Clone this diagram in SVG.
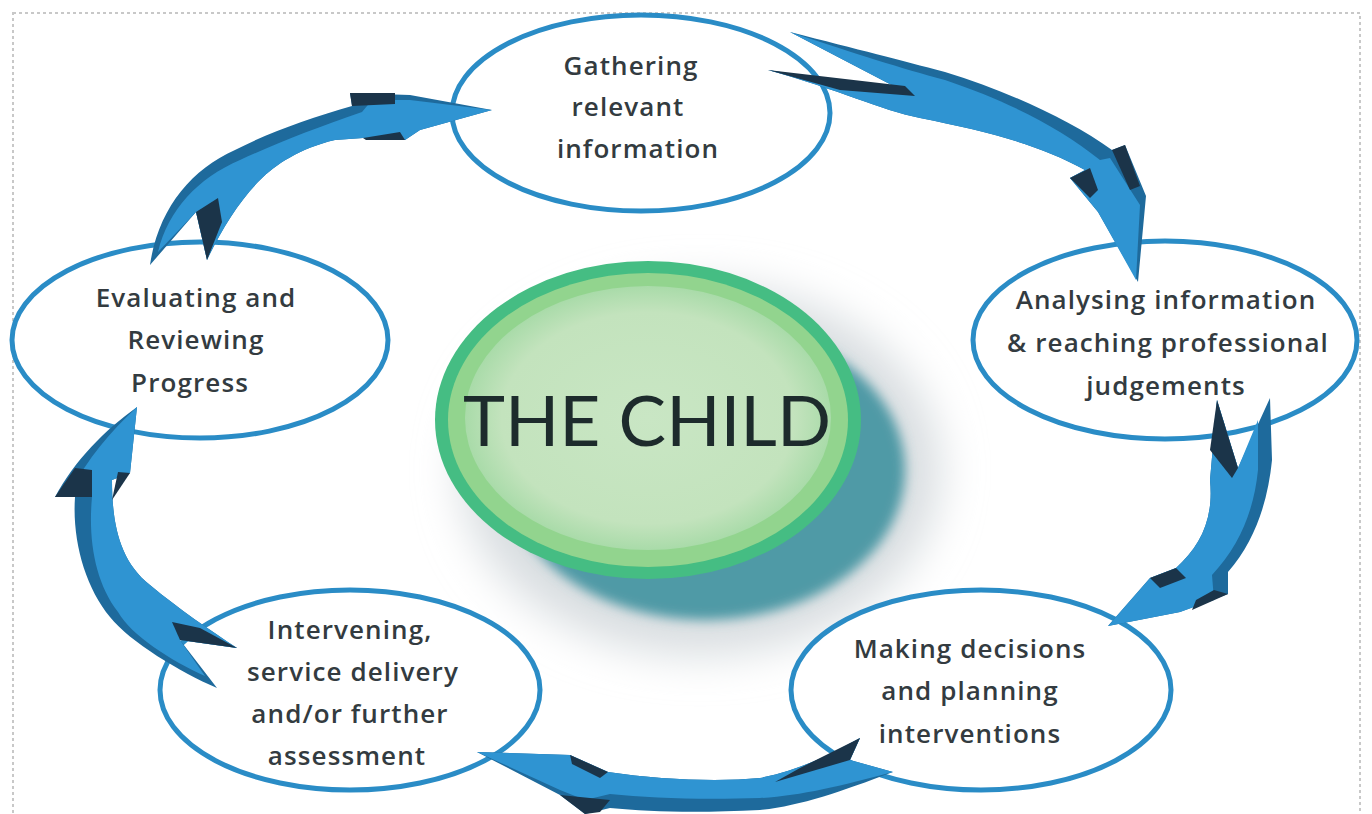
<svg xmlns="http://www.w3.org/2000/svg" width="1372" height="814" viewBox="0 0 1372 814">
<defs>
<style>
.node{fill:#ffffff;stroke:#2a8cc6;stroke-width:5}
.lbl{font-family:"Open Sans","Liberation Sans",sans-serif;font-weight:600;font-size:26px;letter-spacing:1.1px;fill:#333b40;text-anchor:middle}
.light{fill:#2f94d2}
.mid{fill:#1e6a9c}
.dark{fill:#1b3449}
</style>
<filter id="blur" x="-30%" y="-30%" width="160%" height="160%"><feGaussianBlur stdDeviation="22"/></filter>
<filter id="blur2" x="-30%" y="-30%" width="160%" height="160%"><feGaussianBlur stdDeviation="6"/></filter>
<radialGradient id="inner" cx="50%" cy="50%" r="50%">
<stop offset="0" stop-color="#c9e6c4"/>
<stop offset="0.8" stop-color="#c3e3bd"/>
<stop offset="1" stop-color="#a9dba9"/>
</radialGradient>
</defs>
<rect x="13" y="13" width="1347" height="820" fill="#ffffff" stroke="#c8c8c8" stroke-width="2" stroke-dasharray="3 3"/>

<g id="center">
<ellipse cx="700" cy="470" rx="240" ry="185" fill="#d8dde0" filter="url(#blur)"/>
<ellipse cx="705" cy="470" rx="200" ry="150" fill="#4f9aa6" filter="url(#blur2)"/>
<ellipse cx="648" cy="420" rx="213" ry="159" fill="#45bd83"/>
<ellipse cx="648" cy="420" rx="200" ry="147" fill="#92d48e"/>
<ellipse cx="648" cy="418" rx="183" ry="132" fill="url(#inner)"/>
<text x="647" y="446" font-family="Lato,'Liberation Sans',Arial,sans-serif" font-size="70" fill="#1d2b2c" text-anchor="middle" textLength="368" lengthAdjust="spacingAndGlyphs">THE CHILD</text>
</g>

<g id="node-gathering">
<ellipse class="node" cx="641" cy="113" rx="189" ry="98"/>
<text class="lbl" x="631" y="75">Gathering</text>
<text class="lbl" x="628" y="116">relevant</text>
<text class="lbl" x="638" y="158">information</text>
</g>
<g id="node-analysing">
<ellipse class="node" cx="1165" cy="340" rx="192" ry="99"/>
<text class="lbl" x="1166" y="309">Analysing information</text>
<text class="lbl" x="1168" y="352">&amp; reaching professional</text>
<text class="lbl" x="1166" y="395">judgements</text>
</g>
<g id="node-making">
<ellipse class="node" cx="981" cy="690" rx="190" ry="100"/>
<text class="lbl" x="970" y="658">Making decisions</text>
<text class="lbl" x="970" y="700">and planning</text>
<text class="lbl" x="970" y="743">interventions</text>
</g>
<g id="node-intervening">
<ellipse class="node" cx="350" cy="690" rx="190" ry="100"/>
<text class="lbl" x="350" y="639">Intervening,</text>
<text class="lbl" x="353" y="681">service delivery</text>
<text class="lbl" x="350" y="723">and/or further</text>
<text class="lbl" x="347" y="765">assessment</text>
</g>
<g id="node-evaluating">
<ellipse class="node" cx="200" cy="340" rx="188" ry="98"/>
<text class="lbl" x="196" y="307">Evaluating and</text>
<text class="lbl" x="196" y="349">Reviewing</text>
<text class="lbl" x="190" y="392">Progress</text>
</g>

<g id="connectors">
<g id="arrow1">
<path class="mid" d="M790 32 C860 50 900 60 945 72 C1010 92 1070 120 1112 150 L1125 145 L1146 196 L1138 282 L1098 212 L1070 178 L1085 170 C1040 145 990 132 920 118 C880 110 840 90 768 70 L905 92 Z"/>
<path class="light" d="M790 32 C860 55 900 68 945 80 C1010 102 1060 128 1100 160 L1110 158 L1140 205 L1136 280 L1098 212 L1070 178 L1085 170 C1040 145 990 132 920 118 C880 110 840 90 768 70 L905 92 Z"/>
<path class="dark" d="M768 70 L905 86 L915 96 L840 90 Z"/>
<path class="dark" d="M1070 178 L1090 168 L1098 190 L1090 198 Z"/>
<path class="dark" d="M1112 150 L1125 145 L1140 186 L1130 190 Z"/>
</g>
<g id="arrow2">
<path class="mid" d="M1217 400 L1238 468 L1270 398 L1272 460 C1268 500 1256 540 1228 572 L1228 594 L1180 612 L1108 626 L1150 578 L1176 568 C1200 546 1214 520 1210 480 Z"/>
<path class="light" d="M1217 400 L1238 468 L1258 420 L1258 470 C1254 510 1240 545 1212 575 L1214 600 L1180 612 L1108 626 L1150 578 L1176 568 C1200 546 1214 520 1210 480 Z"/>
<path class="dark" d="M1217 400 L1238 468 L1232 478 L1210 450 Z"/>
<path class="dark" d="M1150 578 L1176 568 L1186 578 L1160 588 Z"/>
<path class="dark" d="M1214 590 L1228 594 L1192 610 L1196 600 Z"/>
</g>
<g id="arrow3">
<path class="mid" d="M477 752 L570 755 L608 772 C660 780 720 782 760 778 C800 770 830 755 860 738 L850 760 L893 772 C840 792 800 806 760 810 C700 813 650 812 610 808 L585 814 L560 795 Z"/>
<path class="light" d="M477 752 L570 755 L608 772 C660 780 720 782 760 778 C800 770 830 755 860 738 L850 760 L893 772 C840 786 800 796 760 798 C700 800 650 798 610 794 L585 800 L560 790 Z"/>
<path class="dark" d="M570 755 L608 772 L600 778 L572 764 Z"/>
<path class="dark" d="M860 738 L850 760 L775 782 L800 768 Z"/>
<path class="dark" d="M560 795 L610 800 L600 812 L585 814 Z"/>
</g>
<g id="arrow4">
<path class="mid" d="M137 407 L130 473 L112 480 C112 520 118 560 150 585 C180 610 210 630 237 648 L180 640 L217 688 C180 672 130 642 110 617 C85 587 72 540 75 497 L55 497 C75 460 105 430 137 407 Z"/>
<path class="light" d="M137 407 L130 473 L112 480 C112 520 118 560 150 585 C180 610 210 630 237 648 L180 640 L205 676 C170 660 132 636 118 612 C95 582 88 540 92 497 L70 492 C88 458 110 432 137 407 Z"/>
<path class="dark" d="M55 497 L75 468 L92 470 L92 497 Z"/>
<path class="dark" d="M118 472 L130 473 L112 500 Z"/>
<path class="dark" d="M237 648 L180 640 L172 622 L200 628 Z"/>
</g>
<g id="arrow5">
<path class="mid" d="M150 265 C158 210 190 170 235 150 C270 132 310 118 352 106 L350 93 L410 95 L492 110 L420 130 L405 140 L363 138 L335 140 C300 148 275 165 260 180 C240 200 222 228 207 260 L196 212 Z"/>
<path class="light" d="M158 252 C168 210 198 178 240 160 C275 144 315 128 362 112 L372 100 L410 100 L492 110 L420 130 L405 140 L363 138 L335 140 C300 148 275 165 260 180 C240 200 222 228 207 260 L196 212 Z"/>
<path class="dark" d="M196 212 L218 198 L222 222 L207 260 Z"/>
<path class="dark" d="M350 93 L395 93 L395 104 L352 106 Z"/>
<path class="dark" d="M363 138 L400 132 L405 140 L366 140 Z"/>
</g>
</g>
</svg>
